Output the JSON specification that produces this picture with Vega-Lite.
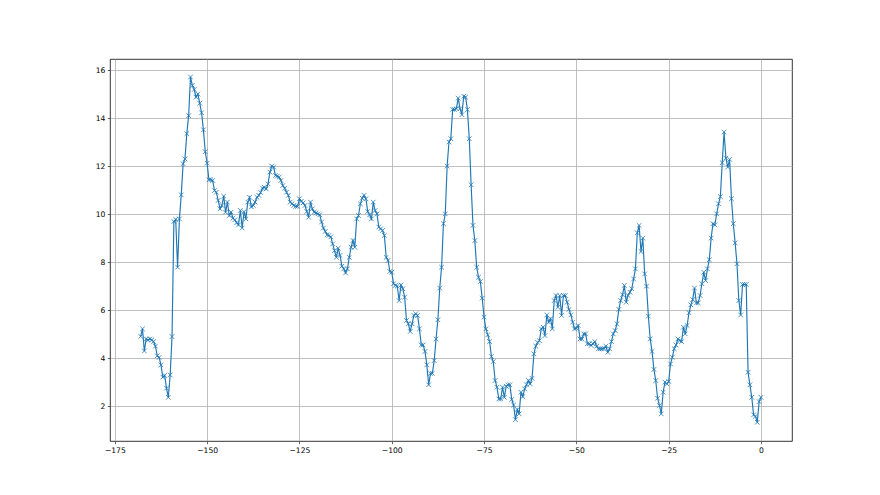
{
  "$schema": "https://vega.github.io/schema/vega-lite/v6.json",
  "width": 682,
  "height": 382,
  "autosize": {"type": "none"},
  "padding": {"left": 110, "top": 59, "right": 88, "bottom": 54},
  "background": "white",
  "config": {
    "view": {"stroke": "black", "strokeWidth": 0.8},
    "axis": {
      "domain": false,
      "grid": true,
      "gridColor": "#b0b0b0",
      "gridWidth": 0.8,
      "ticks": true,
      "tickColor": "black",
      "tickSize": 2.7,
      "tickWidth": 0.6,
      "labelFont": "DejaVu Sans",
      "labelFontSize": 7.6,
      "labelColor": "black",
      "labelPadding": 2.5,
      "title": null
    }
  },
  "data": {"values": [
{"x":-168,"y":4.91},{"x":-167.5,"y":5.22},{"x":-167,"y":4.30},{"x":-166.5,"y":4.80},{"x":-166,"y":4.76},{"x":-165.5,"y":4.80},{"x":-165,"y":4.76},{"x":-164.5,"y":4.69},{"x":-164,"y":4.50},{"x":-163.5,"y":4.10},
{"x":-163,"y":4.03},{"x":-162.5,"y":3.72},{"x":-162,"y":3.21},{"x":-161.5,"y":3.28},{"x":-161,"y":2.75},{"x":-160.5,"y":2.37},{"x":-160,"y":3.30},{"x":-159.5,"y":4.90},{"x":-159,"y":9.69},{"x":-158.5,"y":9.78},
{"x":-158,"y":7.79},{"x":-157.5,"y":9.80},{"x":-157,"y":10.8},{"x":-156.5,"y":12.1},{"x":-156,"y":12.3},{"x":-155.5,"y":13.35},{"x":-155,"y":14.1},{"x":-154.5,"y":15.71},{"x":-154,"y":15.36},{"x":-153.5,"y":15.19},
{"x":-153,"y":14.87},{"x":-152.5,"y":15.0},{"x":-152,"y":14.62},{"x":-151.5,"y":14.22},{"x":-151,"y":13.51},{"x":-150.5,"y":12.6},{"x":-150,"y":12.12},{"x":-149.5,"y":11.43},{"x":-149,"y":11.43},{"x":-148.5,"y":11.40},
{"x":-148,"y":10.98},{"x":-147.5,"y":10.91},{"x":-147,"y":10.57},{"x":-146.5,"y":10.22},{"x":-146,"y":10.36},{"x":-145.5,"y":10.75},{"x":-145,"y":10.08},{"x":-144.5,"y":10.5},{"x":-144,"y":9.94},{"x":-143.5,"y":10.08},
{"x":-143,"y":9.83},{"x":-142.5,"y":9.76},{"x":-142,"y":9.64},{"x":-141.5,"y":9.55},{"x":-141,"y":10.15},{"x":-140.5,"y":9.42},{"x":-140,"y":10.1},{"x":-139.5,"y":9.8},{"x":-139,"y":10.5},{"x":-138.5,"y":10.7},
{"x":-138,"y":10.3},{"x":-137.5,"y":10.36},{"x":-137,"y":10.5},{"x":-136.5,"y":10.7},{"x":-136,"y":10.78},{"x":-135.5,"y":10.9},{"x":-135,"y":11.08},{"x":-134.5,"y":11.12},{"x":-134,"y":11.05},{"x":-133.5,"y":11.26},
{"x":-133,"y":11.75},{"x":-132.5,"y":12.0},{"x":-132,"y":11.96},{"x":-131.5,"y":11.61},{"x":-131,"y":11.58},{"x":-130.5,"y":11.54},{"x":-130,"y":11.4},{"x":-129.5,"y":11.19},{"x":-129,"y":11.08},{"x":-128.5,"y":10.91},
{"x":-128,"y":10.78},{"x":-127.5,"y":10.5},{"x":-127,"y":10.43},{"x":-126.5,"y":10.36},{"x":-126,"y":10.32},{"x":-125.5,"y":10.32},{"x":-125,"y":10.64},{"x":-124.5,"y":10.53},{"x":-124,"y":10.47},{"x":-123.5,"y":10.36},
{"x":-123,"y":10.11},{"x":-122.5,"y":9.87},{"x":-122,"y":10.5},{"x":-121.5,"y":10.22},{"x":-121,"y":10.08},{"x":-120.5,"y":10.05},{"x":-120,"y":10.01},{"x":-119.5,"y":9.97},{"x":-119,"y":9.67},{"x":-118.5,"y":9.42},
{"x":-118,"y":9.28},{"x":-117.5,"y":9.14},{"x":-117,"y":9.11},{"x":-116.5,"y":9.05},{"x":-116,"y":8.76},{"x":-115.5,"y":8.48},{"x":-115,"y":8.2},{"x":-114.5,"y":8.58},{"x":-114,"y":8.28},
{"x":-113.5,"y":7.83},{"x":-113,"y":7.72},{"x":-112.5,"y":7.55},{"x":-112,"y":7.72},{"x":-111.5,"y":8.2},{"x":-111,"y":8.62},{"x":-110.5,"y":8.9},{"x":-110,"y":8.62},{"x":-109.5,"y":9.8},{"x":-109,"y":9.94},
{"x":-108.5,"y":10.43},{"x":-108,"y":10.66},{"x":-107.5,"y":10.78},{"x":-107,"y":10.64},{"x":-106.5,"y":10.11},{"x":-106,"y":9.97},{"x":-105.5,"y":9.8},{"x":-105,"y":10.5},{"x":-104.5,"y":10.15},{"x":-104,"y":10.01},
{"x":-103.5,"y":9.46},{"x":-103,"y":9.39},{"x":-102.5,"y":9.32},{"x":-102,"y":9.11},{"x":-101.5,"y":8.2},{"x":-101,"y":8.07},{"x":-100.5,"y":7.61},{"x":-100,"y":7.58},{"x":-99.5,"y":7.1},{"x":-99,"y":7.03},
{"x":-98.5,"y":7.0},{"x":-98,"y":6.4},{"x":-97.5,"y":7.05},{"x":-97,"y":6.89},{"x":-96.5,"y":6.54},{"x":-96,"y":5.57},{"x":-95.5,"y":5.43},{"x":-95,"y":5.11},{"x":-94.5,"y":5.43},{"x":-94,"y":5.78},
{"x":-93.5,"y":5.85},{"x":-93,"y":5.78},{"x":-92.5,"y":5.22},{"x":-92,"y":4.55},{"x":-91.5,"y":4.55},{"x":-91,"y":4.28},{"x":-90.5,"y":3.72},{"x":-90,"y":2.89},{"x":-89.5,"y":3.37},{"x":-89,"y":3.37},
{"x":-88.5,"y":3.9},{"x":-88,"y":4.8},{"x":-87.5,"y":5.6},{"x":-87,"y":6.92},{"x":-86.5,"y":7.79},{"x":-86,"y":9.6},{"x":-85.5,"y":10.01},{"x":-85,"y":12.0},{"x":-84.5,"y":13.0},{"x":-84,"y":13.14},
{"x":-83.5,"y":14.36},{"x":-83,"y":14.36},{"x":-82.5,"y":14.39},{"x":-82,"y":14.83},{"x":-81.5,"y":14.39},{"x":-81,"y":14.14},{"x":-80.5,"y":14.91},{"x":-80,"y":14.87},{"x":-79.5,"y":14.35},{"x":-79,"y":13.14},
{"x":-78.5,"y":11.22},{"x":-78,"y":9.53},{"x":-77.5,"y":8.9},{"x":-77,"y":7.79},{"x":-76.5,"y":7.37},{"x":-76,"y":7.19},{"x":-75.5,"y":6.5},{"x":-75,"y":5.71},{"x":-74.5,"y":5.22},{"x":-74,"y":4.97},
{"x":-73.5,"y":4.69},{"x":-73,"y":4.07},{"x":-72.5,"y":3.86},{"x":-72,"y":3.07},{"x":-71.5,"y":2.79},{"x":-71,"y":2.3},{"x":-70.5,"y":2.3},{"x":-70,"y":2.79},{"x":-69.5,"y":2.37},{"x":-69,"y":2.83},
{"x":-68.5,"y":2.89},{"x":-68,"y":2.89},{"x":-67.5,"y":2.28},{"x":-67,"y":2.05},{"x":-66.5,"y":1.44},{"x":-66,"y":1.86},{"x":-65.5,"y":1.68},{"x":-65,"y":2.58},{"x":-64.5,"y":2.4},{"x":-64,"y":2.72},
{"x":-63.5,"y":2.89},{"x":-63,"y":3.07},{"x":-62.5,"y":2.93},{"x":-62,"y":3.16},{"x":-61.5,"y":4.18},{"x":-61,"y":4.5},{"x":-60.5,"y":4.66},{"x":-60,"y":4.73},{"x":-59.5,"y":5.22},{"x":-59,"y":5.29},
{"x":-58.5,"y":4.94},{"x":-58,"y":5.8},{"x":-57.5,"y":5.5},{"x":-57,"y":5.64},{"x":-56.5,"y":5.22},{"x":-56,"y":6.4},{"x":-55.5,"y":6.61},{"x":-55,"y":6.12},{"x":-54.5,"y":6.61},{"x":-54,"y":5.78},
{"x":-53.5,"y":6.61},{"x":-53,"y":6.61},{"x":-52.5,"y":6.33},{"x":-52,"y":6.03},{"x":-51.5,"y":5.8},{"x":-51,"y":5.5},{"x":-50.5,"y":5.22},{"x":-50,"y":5.25},{"x":-49.5,"y":5.36},{"x":-49,"y":4.8},
{"x":-48.5,"y":4.8},{"x":-48,"y":5.01},{"x":-47.5,"y":5.01},{"x":-47,"y":4.6},{"x":-46.5,"y":4.6},{"x":-46,"y":4.53},{"x":-45.5,"y":4.6},{"x":-45,"y":4.69},{"x":-44.5,"y":4.5},{"x":-44,"y":4.39},
{"x":-43.5,"y":4.39},{"x":-43,"y":4.39},{"x":-42.5,"y":4.4},{"x":-42,"y":4.5},{"x":-41.5,"y":4.25},{"x":-41,"y":4.39},{"x":-40.5,"y":4.69},{"x":-40,"y":5.01},{"x":-39.5,"y":5.15},{"x":-39,"y":5.43},
{"x":-38.5,"y":6.03},{"x":-38,"y":6.4},{"x":-37.5,"y":6.64},{"x":-37,"y":7.03},{"x":-36.5,"y":6.33},{"x":-36,"y":6.61},{"x":-35.5,"y":6.75},{"x":-35,"y":6.89},{"x":-34.5,"y":7.3},{"x":-34,"y":7.72},
{"x":-33.5,"y":9.22},{"x":-33,"y":9.53},{"x":-32.5,"y":8.44},{"x":-32,"y":9.0},{"x":-31.5,"y":7.51},{"x":-31,"y":7.0},{"x":-30.5,"y":5.75},{"x":-30,"y":4.8},{"x":-29.5,"y":4.28},{"x":-29,"y":3.53},
{"x":-28.5,"y":3.07},{"x":-28,"y":2.33},{"x":-27.5,"y":2.03},{"x":-27,"y":1.68},{"x":-26.5,"y":2.58},{"x":-26,"y":3.0},{"x":-25.5,"y":2.93},{"x":-25,"y":3.03},{"x":-24.5,"y":3.76},{"x":-24,"y":4.04},
{"x":-23.5,"y":4.39},{"x":-23,"y":4.55},{"x":-22.5,"y":4.8},{"x":-22,"y":4.73},{"x":-21.5,"y":4.69},{"x":-21,"y":5.29},{"x":-20.5,"y":5.01},{"x":-20,"y":5.36},{"x":-19.5,"y":5.89},{"x":-19,"y":6.22},
{"x":-18.5,"y":6.44},{"x":-18,"y":6.92},{"x":-17.5,"y":6.3},{"x":-17,"y":6.3},{"x":-16.5,"y":6.61},{"x":-16,"y":7.1},{"x":-15.5,"y":7.58},{"x":-15,"y":7.23},{"x":-14.5,"y":7.72},{"x":-14,"y":8.1},
{"x":-13.5,"y":9.0},{"x":-13,"y":9.6},{"x":-12.5,"y":9.55},{"x":-12,"y":10.01},{"x":-11.5,"y":10.43},{"x":-11,"y":10.73},{"x":-10.5,"y":12.14},{"x":-10,"y":13.42},{"x":-9.5,"y":12.33},{"x":-9,"y":11.96},
{"x":-8.5,"y":12.28},{"x":-8,"y":10.64},{"x":-7.5,"y":9.6},{"x":-7,"y":8.8},{"x":-6.5,"y":7.93},{"x":-6,"y":6.4},{"x":-5.5,"y":5.8},{"x":-5,"y":7.07},{"x":-4.5,"y":7.07},{"x":-4,"y":7.07},
{"x":-3.5,"y":3.41},{"x":-3,"y":2.89},{"x":-2.5,"y":2.37},{"x":-2,"y":1.64},{"x":-1.5,"y":1.58},{"x":-1,"y":1.33},{"x":-0.5,"y":2.19},{"x":0,"y":2.37}
  ]},
  "encoding": {
    "x": {
      "field": "x", "type": "quantitative",
      "scale": {"domain": [-176.3, 8.4], "nice": false, "zero": false},
      "axis": {"values": [-175, -150, -125, -100, -75, -50, -25, 0], "format": "d", "labelExpr": "replace(datum.label, '-', '\u2212')"}
    },
    "y": {
      "field": "y", "type": "quantitative",
      "scale": {"domain": [0.55, 16.46], "nice": false, "zero": false},
      "axis": {"values": [2, 4, 6, 8, 10, 12, 14, 16], "format": "d"}
    }
  },
  "layer": [
    {"mark": {"type": "line", "color": "#1f77b4", "strokeWidth": 1.15, "clip": true}},
    {"mark": {"type": "point", "shape": "M-1,-1L1,1M-1,1L1,-1", "size": 21, "filled": false, "stroke": "#1f77b4", "strokeWidth": 0.8, "opacity": 1, "clip": true}}
  ]
}
